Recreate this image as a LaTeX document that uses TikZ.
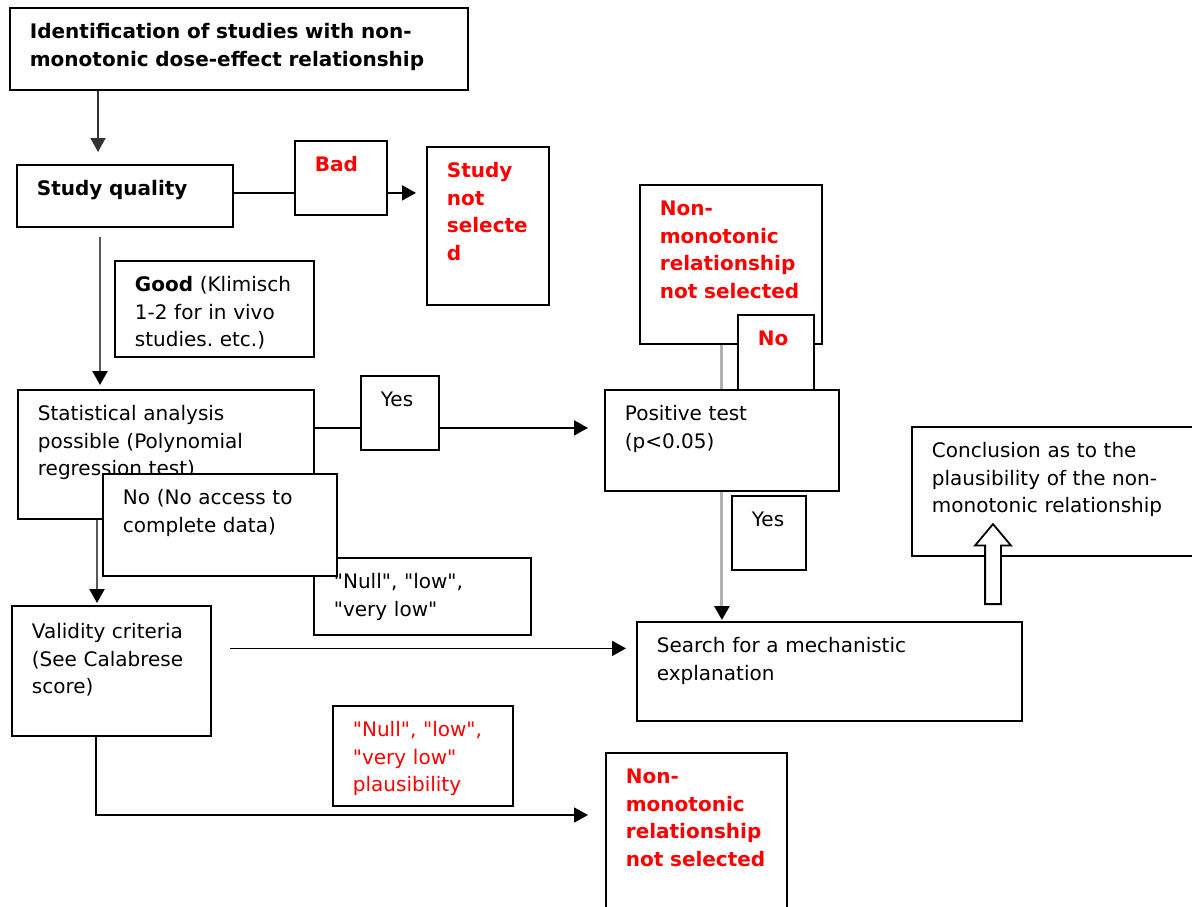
\documentclass[tikz,border=0pt]{standalone}
\usepackage{fontspec}
\setmainfont{DejaVu Sans}
\usetikzlibrary{arrows.meta,shapes.arrows}
\newcommand{\qt}{\textquotedbl}

\begin{document}
\frenchspacing
\begin{tikzpicture}[x=1pt, y=-1pt,
  box/.style = {draw, fill=white, line width=1.8pt, anchor=north west, inner xsep=20pt, inner ysep=0pt,
    align=left, text height=31pt, font=\fontsize{20}{27.5}\selectfont},
  bold/.style = {font=\fontsize{20}{27.5}\selectfont\bfseries},
  warn/.style = {text=red},
  arr/.style = {line width=1.8pt, -{Triangle[length=14pt, width=15pt]}},
  darr/.style = {line width=2.2pt, draw=black!65, -{Triangle[length=14pt, width=15pt, color=black]}},
  gline/.style = {line width=3pt, draw=black!30},
  garr/.style = {gline, -{Triangle[length=14pt, width=15pt, color=black]}},
  hollow/.style = {single arrow, draw, fill=white, line width=1.8pt, shape border rotate=90,
    minimum height=80pt, inner sep=7pt, single arrow head extend=10pt, single arrow tip angle=80, anchor=tail}]
  \fill[white, use as bounding box] (0,0) rectangle (1192,907);
  \clip (0,0) rectangle (1192,907);

  % boxes
  \node[box, bold, text width=418pt, text depth=51pt] (ident) at (9,7) {Identification of studies with non-\\monotonic dose-effect relationship};
  \node[box, bold, text width=176pt, text depth=31pt] (quality) at (16,164) {Study quality};
  \node[box, bold, warn, text width=52pt, text depth=43pt] (bad) at (294,140) {Bad};
  \node[box, bold, warn, text width=82pt, text depth=127pt] (notsel) at (426,146) {Study\\not\\selecte\\d};
  \node[box, text width=159pt, text depth=65pt] (good) at (114,260) {\textbf{Good} (Klimisch\\1-2 for in vivo\\studies. etc.)};
  \node[box, text width=256pt, text depth=98pt] (stat) at (17,389) {Statistical analysis\\possible (Polynomial\\regression test)};
  \node[box, text width=38pt, text depth=43pt] (yes1) at (360,375) {Yes};
  \node[box, text width=194pt, text depth=70pt] (pos) at (604,389) {Positive test\\(p<0.05)};
  \node[box, bold, warn, text width=142pt, text depth=128pt] (nmtop) at (639,184) {Non-\\monotonic\\relationship\\not selected};
  \node[box, bold, warn, text width=36pt, text depth=44pt] (no1) at (737,314) {No};
  \node[box, text width=34pt, text depth=43pt] (yes2) at (731,495) {Yes};
  \node[box, text width=345pt, text depth=68pt] (search) at (636,621) {Search for a mechanistic\\explanation};
  \node[box, text width=260pt, text depth=98pt] (concl) at (911,426) {Conclusion as to the\\plausibility of the non-\\monotonic relationship};
  \node[box, text width=159pt, text height=33pt, text depth=97pt] (valid) at (11,605) {Validity criteria\\(See Calabrese\\score)};
  \node[box, text width=177pt, text depth=46pt] (nulls) at (313,557) {\qt Null\qt, \qt low\qt,\\\qt very low\qt};
  \node[box, text width=194pt, text depth=71pt] (nodata) at (102,473) {No (No access to\\complete data)};
  \node[box, warn, text width=140pt, text depth=69pt] (plaus) at (332,705) {\qt Null\qt, \qt low\qt,\\\qt very low\qt\\plausibility};
  \node[box, bold, warn, text width=141pt, text depth=169pt] (nmbot) at (605,752) {Non-\\monotonic\\relationship\\not selected};

  % connectors
  \draw[arr, draw=black!80] ([xshift=89pt]ident.south west) -- ([xshift=82pt, yshift=12pt]quality.north west);
  \draw[line width=1.8pt] ([yshift=3pt]quality.east) coordinate (q1) -- (q1 -| bad.west);
  \draw[arr, shorten >=10pt] (q1 -| bad.east) -- (q1 -| notsel.west);
  \draw[darr, shorten <=9pt, shorten >=4pt] ([xshift=84pt]quality.south west) -- ([xshift=83pt]stat.north west);
  \draw[line width=1.8pt] ([yshift=26.5pt]stat.east) coordinate (s1) -- (s1 -| yes1.west);
  \draw[arr, shorten >=16pt] (s1 -| yes1.east) -- (s1 -| pos.west);
  \draw[gline] (pos.north |- nmtop.south) -- (pos.north);
  \draw[garr, shorten >=1pt] (pos.south) -- (pos.south |- search.north);
  \draw[darr, shorten >=2pt] ([xshift=80pt]stat.south west) -- ([xshift=86pt]valid.north west);
  \coordinate (s2) at ([yshift=23pt]search.west);
  \draw[arr, shorten <=18pt, shorten >=10pt] (s2 -| valid.east) -- (s2);
  \coordinate (s3) at ([yshift=-63pt]nmbot.north west);
  \draw[arr, shorten >=17pt] ([xshift=85pt]valid.south west) |- (s3);
  \node[hollow] (up) at ([xshift=357pt, yshift=16pt]search.north west) {};
\end{tikzpicture}
\end{document}
